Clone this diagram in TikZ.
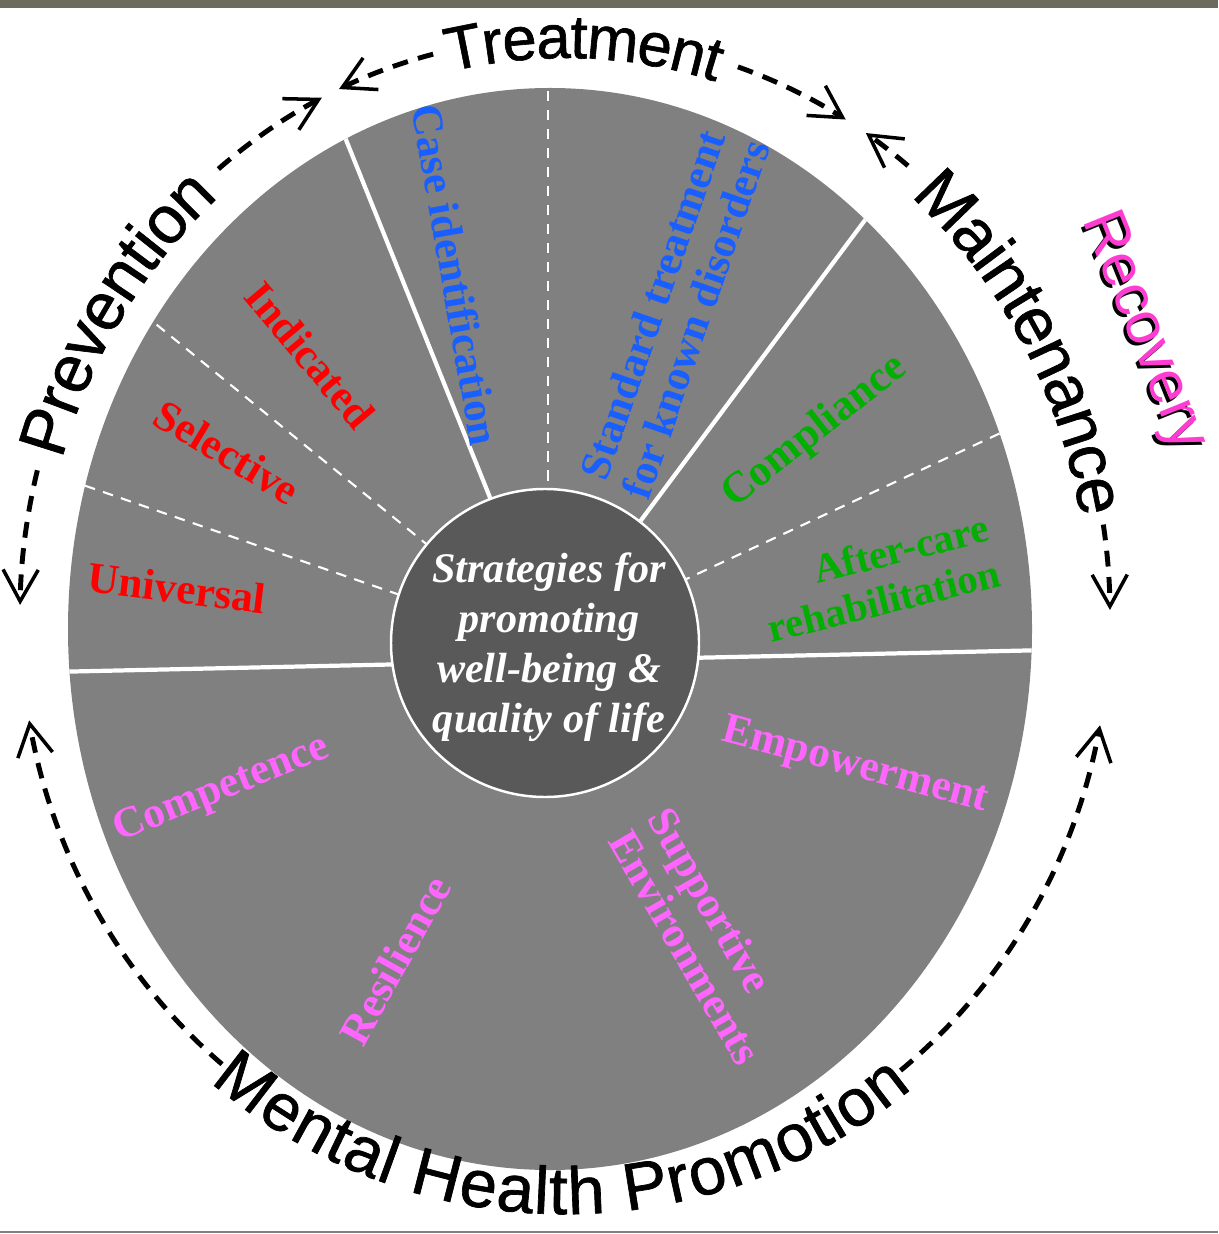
\documentclass[tikz,border=0pt]{standalone}
\usepackage{fontspec}
\setmainfont{Liberation Serif}
\setsansfont{Liberation Sans}
\newfontfamily\phasefamily[FakeBold=1]{Liberation Sans}
\usetikzlibrary{arrows.meta,decorations.text}

\definecolor{wheelgray}{RGB}{128,128,128}
\definecolor{hubgray}{RGB}{89,89,89}
\definecolor{bandgray}{RGB}{107,107,94}
\definecolor{prevred}{RGB}{255,0,0}
\definecolor{treatblue}{RGB}{25,95,255}
\definecolor{maintgreen}{RGB}{0,175,0}
\definecolor{promoviolet}{RGB}{255,102,255}
\definecolor{recovpink}{RGB}{255,60,210}

\newcommand{\phasefont}{\phasefamily\fontsize{19}{19}\selectfont}

\tikzset{
  divider/.style={white,line width=1.2pt},
  subdivider/.style={white,line width=0.6pt,dash pattern=on 3pt off 2.4pt},
  seglabel/.style={font=\fontsize{12.3}{13}\selectfont\bfseries,inner sep=0pt,align=center},
  recovlabel/.style={font=\sffamily\fontsize{17}{17}\selectfont,rotate=-68,inner sep=0pt},
  phasering/.style={x radius=545,y radius=578},
  phasearrow/.style={line width=1.4pt,dash pattern=on 4.5pt off 3pt,
    -{Straight Barb[length=9pt,width=10pt,line width=1pt]}},
  phasetext/.style={decorate,decoration={text along path,text align=center,raise=-6pt,text={#1}}},
}

\begin{document}
\begin{tikzpicture}[x=0.01cm,y=-0.01cm]
  \useasboundingbox (0,0) rectangle (1218,1234);
  \fill[bandgray] (0,0) rectangle (1218,8);
  \fill[gray] (0,1231) rectangle (1218,1233);

  \coordinate (wheel) at (550,629);
  \coordinate (hub) at (545,643);
  \coordinate (lc) at (565,615);

  % wheel and its slices
  \fill[wheelgray] (wheel) ellipse[x radius=482,y radius=541];
  \begin{scope}
    \clip (wheel) ellipse[x radius=482,y radius=541];
    \draw[divider] (50,672) -- (1050,650);
    \draw[divider] (497,515) -- (330,100);
    \draw[divider] (630,535) -- (880,200);
    \draw[subdivider] (548,500) -- (548,70);
    \draw[subdivider] (430,547) -- (130,303);
    \draw[subdivider] (400,595) -- (60,477);
    \draw[subdivider] (680,582) -- (1020,424);
  \end{scope}
  \draw[white,line width=0.7pt,fill=hubgray] (hub) circle[radius=154];
  \node[white,font=\fontsize{12}{14.2}\selectfont\bfseries\itshape,align=center] (strategy) at (549,647)
    {Strategies for\\promoting\\well-being \&\\quality of life};

  % slice labels
  \node[seglabel,prevred,rotate=-7] (universal) at (177,588) {Universal};
  \node[seglabel,prevred,rotate=-31] (selective) at (227,452) {Selective};
  \node[seglabel,prevred,rotate=-50] (indicated) at (310,355) {Indicated};
  \node[seglabel,treatblue,rotate=-80] (caseid) at (456,275) {Case identification};
  \node[seglabel,treatblue,rotate=71] (standard) at (674,312) {Standard treatment\\for known disorders};
  \node[seglabel,maintgreen,rotate=38] (compliance) at (815,432) {Compliance};
  \node[seglabel,maintgreen,rotate=14,align=right,font=\fontsize{11.6}{13.2}\selectfont\bfseries] (aftercare) at (878,578) {After-care\\rehabilitation};
  \node[seglabel,promoviolet,rotate=-15] (empower) at (855,767) {Empowerment};
  \node[seglabel,promoviolet,rotate=-60,align=left] (supportive) at (705,936) {Supportive\\Environments};
  \node[seglabel,promoviolet,rotate=22] (competence) at (222,790) {Competence};
  \node[seglabel,promoviolet,rotate=61] (resilience) at (395,960) {Resilience};

  % recovery with its shadow
  \node[recovlabel,black] (recoveryshadow) at (1140,335) {Recovery};
  \node[recovlabel,recovpink] (recovery) at (1143,332) {Recovery};

  % phases round the wheel
  \path[phasetext={|\phasefont|Prevention}] (lc) ++(188:545 and 578) arc[phasering,start angle=188,end angle=237];
  \path[phasetext={|\phasefamily\fontsize{17.5}{17.5}\selectfont|Treatment}] (lc) ++(250:545 and 578) arc[phasering,start angle=250,end angle=294];
  \path[phasetext={|\phasefont|Maintenance}] (lc) ++(303:545 and 578) arc[phasering,start angle=303,end angle=358];
  \path[phasetext={|\phasefont|Mental Health Promotion}] (lc) ++(140:545 and 578) arc[phasering,start angle=140,end angle=41];

  \draw[phasearrow] (lc) ++(194.5:545 and 578) arc[phasering,start angle=194.5,end angle=181];
  \draw[phasearrow] (lc) ++(230.5:545 and 578) arc[phasering,start angle=230.5,end angle=243.5];
  \draw[phasearrow] (lc) ++(256:545 and 578) arc[phasering,start angle=256,end angle=245.5];
  \draw[phasearrow] (lc) ++(288.5:545 and 578) arc[phasering,start angle=288.5,end angle=301];
  \draw[phasearrow] (lc) ++(309:545 and 578) arc[phasering,start angle=309,end angle=303.5];
  \draw[phasearrow] (lc) ++(351:545 and 578) arc[phasering,start angle=351,end angle=359.5];
  \draw[phasearrow] (lc) ++(129:545 and 578) arc[phasering,start angle=129,end angle=169.5];
  \draw[phasearrow] (lc) ++(52:545 and 578) arc[phasering,start angle=52,end angle=11];
\end{tikzpicture}
\end{document}
